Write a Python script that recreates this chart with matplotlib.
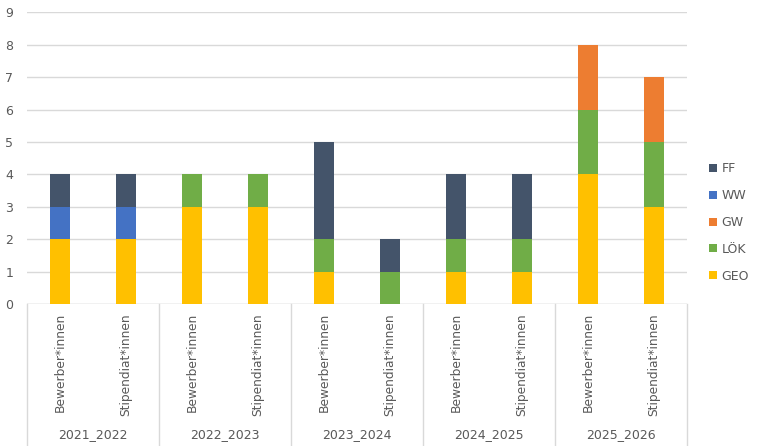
import matplotlib
matplotlib.use("Agg")
import matplotlib.pyplot as plt
from matplotlib.patches import Patch
import numpy as np

years = ["2021_2022", "2022_2023", "2023_2024", "2024_2025", "2025_2026"]
subcats = ["Bewerber*innen", "Stipendiat*innen"]

# stack order bottom -> top
GEO = [2, 2, 3, 3, 1, 0, 1, 1, 4, 3]
LOK = [0, 0, 1, 1, 1, 1, 1, 1, 2, 2]
GW  = [0, 0, 0, 0, 0, 0, 0, 0, 2, 2]
WW  = [1, 1, 0, 0, 0, 0, 0, 0, 0, 0]
FF  = [1, 1, 0, 0, 3, 1, 2, 2, 0, 0]

series = [("GEO", GEO, "#FFC000"), ("LÖK", LOK, "#70AD47"), ("GW", GW, "#ED7D31"),
          ("WW", WW, "#4472C4"), ("FF", FF, "#44546A")]

W, H = 761, 446
fig = plt.figure(figsize=(W / 100, H / 100), dpi=100)
left, right, top, bottom = 27, 687, 12.5, 304
ax = fig.add_axes([left / W, 1 - bottom / H, (right - left) / W, (bottom - top) / H])

n = len(years) * len(subcats)
x = np.arange(n)
base = np.zeros(n)
for name, vals, col in series:
    ax.bar(x, vals, bottom=base, width=0.31, color=col, zorder=3)
    base += np.array(vals)

ax.set_xlim(-0.5, n - 0.5)
ax.set_ylim(0, 9)
ax.set_yticks(range(0, 10))
ax.grid(axis="y", color="#D9D9D9", linewidth=1, zorder=0)
for s in ax.spines.values():
    s.set_visible(False)
ax.axhline(0, color="#D9D9D9", linewidth=1, zorder=1)
ax.tick_params(axis="y", length=0, labelsize=9, labelcolor="#595959", pad=10)
ax.set_xticks([])

tr = ax.get_xaxis_transform()
ph = bottom - top
ylow = -(H - bottom) / ph
for b in np.arange(-0.5, n, 2):
    ax.plot([b, b], [0, ylow], transform=tr, color="#D9D9D9", linewidth=1, clip_on=False)

for i in range(n):
    ax.text(x[i], -9 / ph, subcats[i % 2], transform=tr, rotation=90, ha="center", va="top",
            fontsize=8.8, color="#595959")
for g, yr in enumerate(years):
    ax.text(2 * g + 0.5, -(435 - bottom) / ph, yr, transform=tr, ha="center", va="center",
            fontsize=9, color="#595959")

handles = [Patch(facecolor=c, label=nm) for nm, v, c in series][::-1]
fig.legend(handles=handles, loc="center left", bbox_to_anchor=(698 / W, 1 - 222.5 / H),
           frameon=False, fontsize=9, labelcolor="#595959", handlelength=0.6, handleheight=0.6,
           handletextpad=0.4, labelspacing=1.1)

fig.savefig("out.png", dpi=100)
